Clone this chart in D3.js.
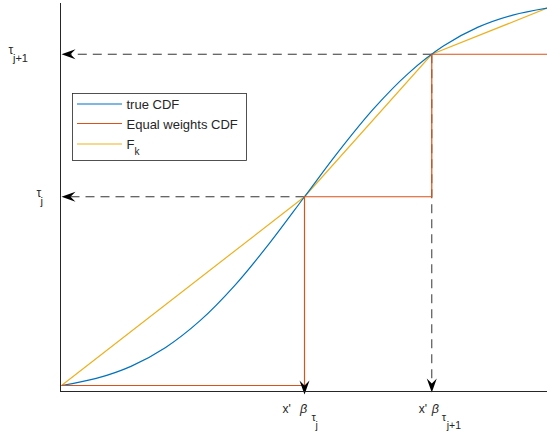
<!DOCTYPE html>
<html>
<head>
<meta charset="utf-8">
<script src="https://cdn.jsdelivr.net/npm/d3@7"></script>
<style>
  body { margin: 0; background: #fff; }
  text { font-family: "Liberation Sans", Arial, Helvetica, sans-serif; fill: #262626; }
</style>
</head>
<body>
<svg id="chart" width="547" height="437"></svg>
<script>
// Grid of x'β values and the true (smooth) CDF sampled on it
const gridX   = [-2.1, -1.8, -1.5, -1.2, -0.9, -0.6, -0.3, 0, 0.3, 0.6, 0.9, 1.2, 1.5, 1.8, 2.1];
const trueCdf = [0.0179, 0.0359, 0.0668, 0.1151, 0.1841, 0.2743, 0.3821, 0.5, 0.6179, 0.7257, 0.8159, 0.8849, 0.9332, 0.9641, 0.9821];

// Knots: start of support, x'β_{τj}, x'β_{τj+1}, end of support
const knotX   = [-2.1, 0, 1.1, 2.1];
// Equal-weights step CDF levels at each knot (step after)
const stepLevels = [0.0179, 0.5, 0.864, 0.864];
// Piecewise-linear F_k at the knots
const fkLevels   = [0.0179, 0.5, 0.864, 0.9821];

// Quantile levels marked on the axes
const tauValues = [0.5, 0.864];
const tauXs     = [0, 1.1];

const seriesNames  = ["true CDF", "Equal weights CDF", "F"];
const seriesColors = ["#0072BD", "#D95319", "#EDB120"];

const svg = d3.select("#chart");

const x = d3.scaleLinear().domain([-2.1, 2.1]).range([61.5, 547.5]);
const y = d3.scaleLinear().domain([0, 1]).range([392.5, 1]);

const axisLeftX = 60.5, axisBottomY = 391.5, axisTopY = 3;
const lw = 1.2;

const gDash = svg.append("g");
const gCurves = svg.append("g");
const gHeads = svg.append("g");

// Axis lines (no box)
svg.append("line").attr("x1", axisLeftX).attr("x2", axisLeftX)
  .attr("y1", axisTopY).attr("y2", axisBottomY + 0.5)
  .attr("stroke", "#262626").attr("stroke-width", 1);
svg.append("line").attr("x1", axisLeftX - 0.5).attr("x2", 547)
  .attr("y1", axisBottomY).attr("y2", axisBottomY)
  .attr("stroke", "#262626").attr("stroke-width", 1);

// Curves
const trueLine = d3.line().x(d => x(d[0])).y(d => y(d[1])).curve(d3.curveCatmullRom.alpha(0.5));
const stepLine = d3.line().x(d => x(d[0])).y(d => y(d[1])).curve(d3.curveStepAfter);
const linLine  = d3.line().x(d => x(d[0])).y(d => y(d[1]));

gCurves.append("path").datum(d3.zip(knotX, fkLevels))
  .attr("d", linLine).attr("fill", "none")
  .attr("stroke", seriesColors[2]).attr("stroke-width", lw);

gCurves.append("path").datum(d3.zip(gridX, trueCdf))
  .attr("d", trueLine).attr("fill", "none")
  .attr("stroke", seriesColors[0]).attr("stroke-width", lw);

gCurves.append("path").datum(d3.zip(knotX, stepLevels))
  .attr("d", stepLine).attr("fill", "none")
  .attr("stroke", seriesColors[1]).attr("stroke-width", lw);

// Dashed arrows with notched heads
function arrow(x1, y1, x2, y2) {
  const dx = x2 - x1, dy = y2 - y1, len = Math.hypot(dx, dy);
  const ux = dx / len, uy = dy / len, nx = -uy, ny = ux;
  const L = 14, W = 5, N = 9;
  gDash.append("line")
    .attr("x1", x1).attr("y1", y1)
    .attr("x2", x2 - ux * N).attr("y2", y2 - uy * N)
    .attr("stroke", "#333").attr("stroke-width", 1)
    .attr("stroke-dasharray", "9,6");
  const pts = [
    [x2, y2],
    [x2 - ux * L + nx * W, y2 - uy * L + ny * W],
    [x2 - ux * N, y2 - uy * N],
    [x2 - ux * L - nx * W, y2 - uy * L - ny * W]
  ];
  gHeads.append("path").attr("d", "M" + pts.map(p => p.join(",")).join("L") + "Z")
    .attr("fill", "#000");
}

tauValues.forEach((t, i) => {
  const px = x(tauXs[i]), py = y(t);
  arrow(px, py, axisLeftX + 1, py);
});
arrow(x(tauXs[0]), y(tauValues[0]), x(tauXs[0]), axisBottomY + 3);
arrow(x(tauXs[1]), y(tauValues[1]), x(tauXs[1]), axisBottomY + 1);

// Y tick labels: τ_j, τ_{j+1}
const ySubs = ["j", "j+1"];
const yLabelDx = [[-24, -20], [-52, -47.5]];
tauValues.forEach((t, i) => {
  const py = y(t);
  svg.append("text").attr("x", axisLeftX + yLabelDx[i][0]).attr("y", py + 0)
    .attr("font-size", 12).text("τ");
  svg.append("text").attr("x", axisLeftX + yLabelDx[i][1]).attr("y", py + 8)
    .attr("font-size", 11).text(ySubs[i]);
});

// X tick labels: x'β_{τ_j}, x'β_{τ_{j+1}}
const xLabelDx = [[-22, -4.5, 7, 11], [-13, 0, 10, 15]];
tauXs.forEach((v, i) => {
  const px = x(v), by = 413;
  const o = xLabelDx[i];
  svg.append("text").attr("x", px + o[0]).attr("y", by).attr("font-size", 12).text("x'");
  svg.append("text").attr("x", px + o[1]).attr("y", by).attr("font-size", 12.5)
    .attr("font-style", "italic").text("β");
  svg.append("text").attr("x", px + o[2]).attr("y", by + 8).attr("font-size", 11).text("τ");
  svg.append("text").attr("x", px + o[3]).attr("y", by + 16).attr("font-size", 10.5).text(ySubs[i]);
});

// Legend
const lg = svg.append("g").attr("transform", "translate(72.5,93.5)");
lg.append("rect").attr("width", 174).attr("height", 67)
  .attr("fill", "#fff").attr("stroke", "#262626").attr("stroke-width", 0.8);
const rowY = [10.5, 30, 50.5];
seriesNames.forEach((name, i) => {
  lg.append("line").attr("x1", 4.5).attr("x2", 49.5)
    .attr("y1", rowY[i]).attr("y2", rowY[i])
    .attr("stroke", seriesColors[i]).attr("stroke-width", lw);
  const t = lg.append("text").attr("x", 54).attr("y", rowY[i] + 5).attr("font-size", 13).text(name);
  if (i === 2) {
    t.append("tspan").attr("font-size", 10).attr("dy", 6).text("k");
  }
});
</script>
</body>
</html>
